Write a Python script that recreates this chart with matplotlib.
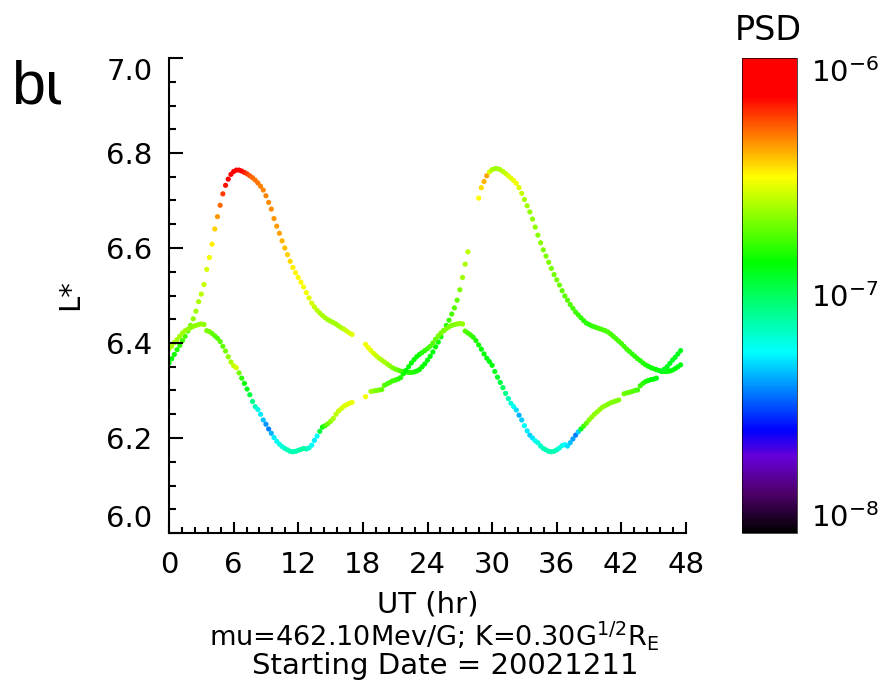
import numpy as np
import matplotlib
matplotlib.use('Agg')
import matplotlib.pyplot as plt
from matplotlib.colors import LinearSegmentedColormap, LogNorm
from matplotlib.ticker import AutoMinorLocator, FixedLocator, NullLocator
from matplotlib.transforms import Bbox, TransformedBbox

nan = np.nan

# UT sample grid (hr), one sample every 15 min
ut = np.arange(193) * 0.25

# curve A: the one with the big excursion up to L*~6.77
lstar_a = [
  6.358, 6.367, 6.376, 6.386, 6.395, 6.405, 6.414, 6.425,
  6.437, 6.451, 6.467, 6.487, 6.503, 6.523, 6.555, 6.580,
  6.608, 6.640, 6.666, 6.690, 6.714, 6.732, 6.745, 6.755,
  6.761, 6.764, 6.764, 6.762, 6.759, 6.756, 6.752, 6.748,
  6.743, 6.737, 6.730, 6.722, 6.710, 6.696, 6.682, 6.662,
  6.646, 6.631, 6.615, 6.600, 6.586, 6.572, 6.559, 6.548,
  6.538, 6.528, 6.518, 6.506, 6.495, 6.484, 6.476, 6.469,
  6.463, 6.458, 6.453, 6.449, 6.446, 6.443, 6.440, 6.436,
  6.432, 6.429, 6.425, 6.421, 6.418, nan, nan, nan,
  nan, 6.397, 6.390, 6.384, 6.378, 6.373, 6.368, 6.364,
  6.360, 6.356, 6.352, 6.348, 6.345, 6.343, 6.341, 6.340,
  6.339, 6.338, 6.338, 6.339, 6.341, 6.344, 6.350, 6.356,
  6.364, 6.372, 6.381, 6.392, 6.402, 6.413, 6.426, 6.437,
  6.448, 6.461, 6.474, 6.490, 6.512, 6.538, 6.566, 6.592,
  nan, nan, nan, 6.705, 6.727, 6.740, 6.752, 6.760,
  6.765, 6.767, 6.767, 6.765, 6.761, 6.757, 6.752, 6.747,
  6.742, 6.736, 6.727, 6.715, 6.702, 6.689, 6.676, 6.661,
  6.644, 6.627, 6.611, 6.596, 6.583, 6.570, 6.557, 6.544,
  6.533, 6.522, 6.510, 6.499, 6.490, 6.481, 6.473, 6.465,
  6.459, 6.453, 6.447, 6.442, 6.439, 6.436, 6.434, 6.432,
  6.430, 6.428, 6.426, 6.423, 6.419, 6.414, 6.409, 6.404,
  6.399, 6.393, 6.387, 6.382, 6.377, 6.372, 6.367, 6.363,
  6.358, 6.354, 6.351, 6.348, 6.346, 6.344, 6.342, 6.341,
  6.340, 6.340, 6.341, 6.343, 6.346, 6.350, 6.354, nan,
  nan]

# log10 of PSD along curve A
logpsd_a = [
  -6.86, -6.85, -6.84, -6.82, -6.80, -6.78, -6.76, -6.74,
  -6.70, -6.66, -6.64, -6.62, -6.60, -6.58, -6.56, -6.52,
  -6.48, -6.44, -6.36, -6.30, -6.24, -6.18, -6.12, -6.10,
  -6.08, -6.08, -6.10, -6.14, -6.20, -6.24, -6.28, -6.30,
  -6.32, -6.32, -6.33, -6.34, -6.34, -6.35, -6.35, -6.36,
  -6.37, -6.38, -6.40, -6.42, -6.44, -6.46, -6.48, -6.49,
  -6.50, -6.50, -6.51, -6.52, -6.54, -6.56, -6.58, -6.60,
  -6.61, -6.62, -6.63, -6.64, -6.64, -6.64, -6.64, -6.63,
  -6.62, -6.60, -6.58, -6.56, -6.54, nan, nan, nan,
  nan, -6.52, -6.52, -6.54, -6.56, -6.58, -6.60, -6.62,
  -6.63, -6.64, -6.66, -6.68, -6.70, -6.72, -6.74, -6.76,
  -6.78, -6.80, -6.81, -6.82, -6.83, -6.84, -6.85, -6.86,
  -6.87, -6.87, -6.87, -6.86, -6.85, -6.84, -6.82, -6.80,
  -6.78, -6.76, -6.74, -6.72, -6.68, -6.64, -6.62, -6.60,
  nan, nan, nan, -6.50, -6.46, -6.40, -6.38, -6.56,
  -6.62, -6.64, -6.64, -6.62, -6.60, -6.58, -6.56, -6.54,
  -6.53, -6.52, -6.54, -6.58, -6.62, -6.64, -6.65, -6.66,
  -6.66, -6.67, -6.67, -6.68, -6.68, -6.68, -6.69, -6.70,
  -6.70, -6.71, -6.72, -6.73, -6.74, -6.75, -6.76, -6.77,
  -6.78, -6.79, -6.80, -6.81, -6.81, -6.80, -6.79, -6.78,
  -6.77, -6.76, -6.76, -6.76, -6.76, -6.76, -6.76, -6.76,
  -6.76, -6.76, -6.77, -6.78, -6.79, -6.80, -6.80, -6.81,
  -6.82, -6.82, -6.83, -6.84, -6.84, -6.85, -6.85, -6.86,
  -6.86, -6.86, -6.86, -6.87, -6.87, -6.87, -6.87, nan,
  nan]

# curve B: the lower one dipping to L*~6.17
lstar_b = [
  6.388, 6.393, 6.401, 6.407, 6.414, 6.421, 6.426, 6.429,
  6.432, 6.435, 6.437, 6.439, 6.440, 6.439, 6.426, 6.424,
  6.420, 6.415, 6.410, 6.403, 6.393, 6.383, 6.371, 6.360,
  6.352, 6.348, 6.337, 6.326, 6.315, 6.303, 6.291, 6.277,
  6.266, 6.260, 6.250, 6.238, 6.229, 6.219, 6.210, 6.201,
  6.193, 6.187, 6.182, 6.178, 6.175, 6.172, 6.171, 6.172,
  6.174, 6.176, 6.178, 6.177, 6.179, 6.185, 6.195, 6.204,
  6.214, 6.223, 6.226, 6.230, 6.235, 6.241, 6.250, 6.257,
  6.262, 6.267, 6.270, 6.273, 6.275, nan, nan, nan,
  nan, 6.287, nan, 6.298, 6.299, 6.300, 6.301, 6.302,
  6.311, 6.314, 6.317, 6.320, 6.322, 6.324, 6.327, 6.335,
  6.342, 6.350, 6.358, 6.365, 6.371, 6.376, 6.380, 6.384,
  6.388, 6.393, 6.400, 6.408, 6.415, 6.421, 6.426, 6.430,
  6.434, 6.437, 6.439, 6.440, 6.441, 6.440, 6.425, 6.421,
  6.417, 6.412, 6.405, 6.396, 6.387, 6.377, 6.368, 6.361,
  6.353, 6.340, 6.328, 6.317, 6.306, 6.294, 6.283, 6.273,
  6.266, 6.259, 6.248, 6.238, 6.226, 6.215, 6.206, 6.200,
  6.194, 6.190, 6.183, 6.178, 6.175, 6.172, 6.171, 6.172,
  6.175, 6.179, 6.184, 6.186, 6.183, 6.190, 6.198, 6.206,
  6.213, 6.219, 6.225, 6.231, 6.238, 6.244, 6.250, 6.255,
  6.260, 6.265, 6.268, 6.271, 6.274, 6.276, 6.278, 6.280,
  nan, 6.293, 6.295, 6.296, 6.298, 6.300, 6.301, 6.310,
  6.315, 6.319, 6.321, 6.323, 6.324, 6.326, nan, 6.340,
  6.345, 6.350, 6.357, 6.364, 6.370, 6.377, 6.384, nan,
  nan]

logpsd_b = [
  -6.62, -6.62, -6.63, -6.63, -6.64, -6.64, -6.64, -6.65,
  -6.66, -6.66, -6.66, -6.66, -6.66, -6.66, -6.68, -6.70,
  -6.72, -6.74, -6.75, -6.74, -6.72, -6.70, -6.66, -6.62,
  -6.58, -6.56, -6.70, -6.80, -6.86, -6.90, -6.96, -7.06,
  -7.14, -7.20, -7.26, -7.32, -7.38, -7.40, -7.34, -7.26,
  -7.22, -7.20, -7.18, -7.16, -7.14, -7.12, -7.12, -7.12,
  -7.12, -7.10, -7.10, -7.12, -7.16, -7.22, -7.26, -7.24,
  -6.96, -6.86, -6.76, -6.70, -6.66, -6.62, -6.60, -6.58,
  -6.56, -6.55, -6.54, -6.54, -6.53, nan, nan, nan,
  nan, -6.52, nan, -6.64, -6.66, -6.68, -6.70, -6.72,
  -6.74, -6.76, -6.76, -6.78, -6.78, -6.80, -6.82, -6.84,
  -6.86, -6.86, -6.86, -6.86, -6.85, -6.84, -6.82, -6.80,
  -6.78, -6.76, -6.74, -6.72, -6.70, -6.69, -6.68, -6.68,
  -6.68, -6.68, -6.68, -6.67, -6.66, -6.66, -6.74, -6.76,
  -6.78, -6.80, -6.82, -6.84, -6.86, -6.87, -6.88, -6.88,
  -6.88, -6.90, -6.92, -6.96, -7.00, -7.06, -7.12, -7.18,
  -7.22, -7.28, -7.34, -7.30, -7.24, -7.26, -7.30, -7.28,
  -7.22, -7.18, -7.16, -7.14, -7.12, -7.12, -7.12, -7.12,
  -7.14, -7.18, -7.20, -7.24, -7.28, -7.32, -7.36, -7.40,
  -7.30, -6.90, -6.78, -6.72, -6.68, -6.66, -6.66, -6.66,
  -6.66, -6.66, -6.67, -6.68, -6.68, -6.68, -6.68, -6.68,
  nan, -6.70, -6.72, -6.72, -6.74, -6.74, -6.76, -6.78,
  -6.80, -6.82, -6.84, -6.86, -6.88, -6.88, nan, -6.90,
  -6.90, -6.90, -6.90, -6.90, -6.90, -6.90, -6.90, nan,
  nan]

yticks = [6.0, 6.2, 6.4, 6.6, 6.8, 7.0]
xticks = [0, 6, 12, 18, 24, 30, 36, 42, 48]
cbar_ticks = [1e-8, 1e-7, 1e-6]
cbar_labels = [r'$10^{-8}$', r'$10^{-7}$', r'$10^{-6}$']

plt.rcParams['font.family'] = ['DejaVu Sans']
plt.rcParams['mathtext.default'] = 'regular'
FS = 21

# IDL-like rainbow: black -> purple -> blue -> cyan -> green -> yellow -> red
rainbow = LinearSegmentedColormap.from_list('idl_rainbow', [
  (0.00, (0.0, 0.0, 0.0)),
  (0.08, (0.30, 0.0, 0.40)),
  (0.16, (0.40, 0.0, 0.85)),
  (0.215, (0.0, 0.0, 1.0)),
  (0.38, (0.0, 1.0, 1.0)),
  (0.57, (0.0, 1.0, 0.0)),
  (0.75, (1.0, 1.0, 0.0)),
  (0.92, (1.0, 0.0, 0.0)),
  (1.00, (1.0, 0.0, 0.0))])
norm = LogNorm(vmin=1e-8, vmax=1e-6)

W, H = 884, 688
fig = plt.figure(figsize=(W / 100, H / 100), dpi=100)
ax = fig.add_axes([169 / W, 155 / H, 517 / W, 475 / H])

for lst, lp in ((lstar_a, logpsd_a), (lstar_b, logpsd_b)):
  sc = ax.scatter(ut, lst, c=10 ** np.array(lp), cmap=rainbow, norm=norm, s=14, linewidths=0)

ax.set_xlim(0, 48)
ax.set_ylim(6.0, 7.0)
ax.spines['top'].set_visible(False)
ax.spines['right'].set_visible(False)
ax.spines['left'].set_linewidth(1.5)
ax.spines['bottom'].set_linewidth(1.5)
ax.set_xticks(xticks)
ax.set_xticklabels([str(v) for v in xticks])
ax.xaxis.set_minor_locator(AutoMinorLocator(5))
ax.set_yticks(yticks)
ax.set_yticklabels(['{:.1f}'.format(v) for v in yticks])
ax.yaxis.set_minor_locator(AutoMinorLocator(4))
ax.tick_params(axis='both', which='both', direction='in', width=1.5, labelsize=FS)
ax.tick_params(axis='y', which='major', length=10, pad=12)
ax.tick_params(axis='y', which='minor', length=5)
ax.tick_params(axis='x', which='major', length=8, pad=13)
ax.tick_params(axis='x', which='minor', length=4)

cax = fig.add_axes([742 / W, 155 / H, 55 / W, 475 / H])
cb = fig.colorbar(sc, cax=cax)
cb.outline.set_linewidth(0.5)
cax.yaxis.set_major_locator(FixedLocator(cbar_ticks))
cax.yaxis.set_minor_locator(NullLocator())
cax.set_yticklabels(cbar_labels)
cax.tick_params(length=0, pad=10, labelsize=FS)

fig.canvas.draw()
ylabs = ax.get_yticklabels()
ylabs[0].set_va('bottom')
ylabs[-1].set_va('top')
clabs = cax.get_yticklabels()
clabs[0].set_va('bottom')
clabs[-1].set_va('top')

fig.text(70 / W, 1 - 295 / H, 'L*', rotation=90, ha='center', va='center', fontsize=FS)
fig.text(768 / W, 1 - 31 / H, 'PSD', ha='center', va='center', fontsize=24)
fig.text(427.5 / W, 1 - 605 / H, 'UT (hr)', ha='center', va='center', fontsize=FS)
fig.text(434 / W, 1 - 636 / H, r'mu=462.10Mev/G; K=0.30G$^{1/2}$R$_E$',
         ha='center', va='center', fontsize=19.5)
fig.text(445 / W, 1 - 666 / H, 'Starting Date = 20021211', ha='center', va='center', fontsize=FS)

# panel letter, cut off on the right as in the original
lab = fig.text(11 / W, 1 - 103 / H, 'bu', fontsize=44, family='Liberation Sans', va='baseline')
lab.set_clip_box(TransformedBbox(Bbox([[0, 0], [60.5 / W, 1]]), fig.transFigure))
lab.set_clip_on(True)

fig.savefig('out.png', dpi=100)
